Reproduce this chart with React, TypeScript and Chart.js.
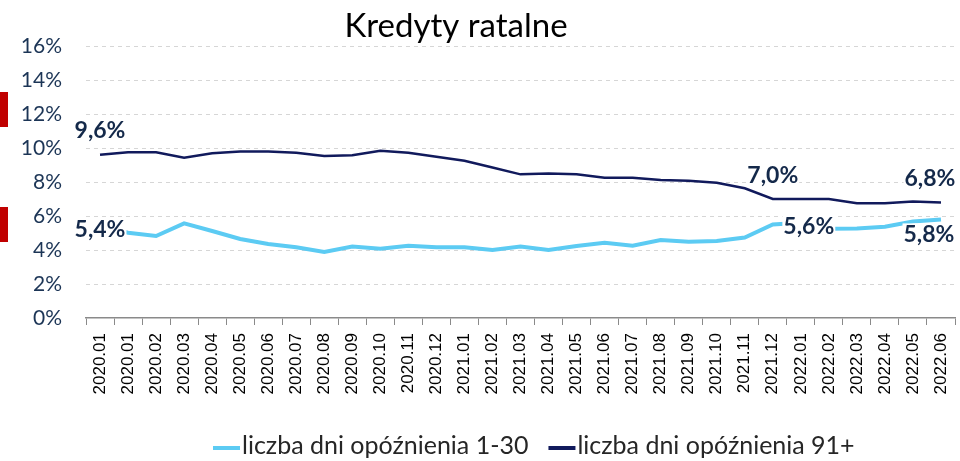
import { useEffect, useRef } from 'react';
import { Chart, registerables } from 'chart.js';

Chart.register(...registerables);

const categories = [
  '2020.01', '2020.01', '2020.02', '2020.03', '2020.04', '2020.05', '2020.06', '2020.07',
  '2020.08', '2020.09', '2020.10', '2020.11', '2020.12', '2021.01', '2021.02', '2021.03',
  '2021.04', '2021.05', '2021.06', '2021.07', '2021.08', '2021.09', '2021.10', '2021.11',
  '2021.12', '2022.01', '2022.02', '2022.03', '2022.04', '2022.05', '2022.06',
];

const late1to30 = [
  5.4, 5.02, 4.82, 5.57, 5.12, 4.65, 4.35, 4.16, 3.88, 4.2, 4.08, 4.25, 4.16, 4.16, 4.0, 4.2,
  4.0, 4.24, 4.43, 4.25, 4.59, 4.49, 4.53, 4.73, 5.5, 5.6, 5.25, 5.27, 5.37, 5.67, 5.8,
];

const late91plus = [
  9.6, 9.75, 9.75, 9.43, 9.69, 9.8, 9.8, 9.72, 9.53, 9.57, 9.84, 9.72, 9.49, 9.25, 8.85, 8.45,
  8.5, 8.45, 8.25, 8.25, 8.12, 8.08, 7.96, 7.63, 7.0, 7.0, 7.0, 6.75, 6.75, 6.86, 6.8,
];

const seriesNames = ['liczba dni opóźnienia 1-30', 'liczba dni opóźnienia 91+'];
const yTicks = [0, 2, 4, 6, 8, 10, 12, 14, 16];
const chartTitle = 'Kredyty ratalne';

// annotated points: [dataset index, point index]
const annotated = [
  [1, 0], [0, 0], [1, 24], [0, 25], [1, 30], [0, 30],
];
// pixel offsets of each annotation relative to its point
const annotationOffsets = [
  [0, -25], [0, 2], [0, -24], [8, 3], [-11, -25], [-12, 14],
];

const LIGHT = '#5ccbf3';
const DARK = '#111a5c';
const LABEL = '#14294a';
const CAL = 'Lato, "Open Sans", sans-serif';

const titlePlugin = {
  id: 'customTitle',
  afterDraw(chart: any) {
    const ctx = chart.ctx;
    ctx.save();
    ctx.font = `33px ${CAL}`;
    ctx.fillStyle = '#000000';
    ctx.textAlign = 'center';
    ctx.textBaseline = 'alphabetic';
    ctx.fillText(chartTitle, 456, 37);
    ctx.restore();
  },
};

const legendPlugin = {
  id: 'customLegend',
  afterDraw(chart: any) {
    const ctx = chart.ctx;
    ctx.save();
    ctx.font = `25px ${CAL}`;
    ctx.textAlign = 'left';
    ctx.textBaseline = 'alphabetic';
    let x = 213;
    const baseline = 454;
    chart.data.datasets.forEach((ds: any) => {
      ctx.fillStyle = ds.borderColor;
      ctx.fillRect(x, 446, 27, 4);
      x += 29;
      ctx.fillStyle = '#262626';
      ctx.fillText(ds.label, x, baseline);
      x += ctx.measureText(ds.label).width + 20;
    });
    ctx.restore();
  },
};

const valueLabels = {
  id: 'valueLabels',
  afterDatasetsDraw(chart: any) {
    const ctx = chart.ctx;
    ctx.save();
    ctx.font = `bold 23px ${CAL}`;
    ctx.textAlign = 'center';
    ctx.textBaseline = 'middle';
    annotated.forEach(([ds, idx], i) => {
      const meta = chart.getDatasetMeta(ds);
      const pt = meta.data[idx];
      const v = chart.data.datasets[ds].data[idx] as number;
      const text = v.toFixed(1).replace('.', ',') + '%';
      const x = pt.x + annotationOffsets[i][0];
      const y = pt.y + annotationOffsets[i][1];
      const w = ctx.measureText(text).width;
      ctx.fillStyle = '#ffffff';
      ctx.fillRect(x - w / 2 - 1, y - 10, w + 2, 20);
      ctx.fillStyle = LABEL;
      ctx.fillText(text, x, y + 1);
    });
    ctx.restore();
  },
};

export default function App() {
  const ref = useRef<HTMLCanvasElement>(null);
  useEffect(() => {
    document.body.style.margin = '0';
    const chart = new Chart(ref.current!, {
      type: 'line',
      data: {
        labels: categories,
        datasets: [
          {
            label: seriesNames[0],
            data: late1to30,
            borderColor: LIGHT,
            backgroundColor: LIGHT,
            borderWidth: 4,
            pointRadius: 0,
            tension: 0,
          },
          {
            label: seriesNames[1],
            data: late91plus,
            borderColor: DARK,
            backgroundColor: DARK,
            borderWidth: 2.5,
            pointRadius: 0,
            tension: 0,
          },
        ],
      },
      options: {
        animation: false,
        responsive: false,
        devicePixelRatio: 1,
        layout: { padding: { left: 18, right: 5, top: 46, bottom: 40 } },
        plugins: {
          title: { display: false },
          legend: { display: false },
          tooltip: { enabled: false },
        },
        scales: {
          x: {
            offset: true,
            grid: { drawOnChartArea: false, drawTicks: true, tickLength: 7, offset: true, color: '#8a8a8a' },
            border: { color: '#8a8a8a', width: 1.5 },
            ticks: {
              autoSkip: false,
              maxRotation: 90,
              minRotation: 90,
              padding: 8,
              color: '#000000',
              font: { family: '"Liberation Sans", Arial, sans-serif', size: 17 },
            },
            afterFit: (s: any) => {
              s.height = 103;
              s.paddingLeft = 0;
              s.paddingRight = 0;
            },
          },
          y: {
            min: yTicks[0],
            max: yTicks[yTicks.length - 1],
            afterBuildTicks: (s: any) => { s.ticks = yTicks.map((v) => ({ value: v })); },
            grid: {
              color: (c: any) => (c.tick && c.tick.value === 0 ? 'rgba(0,0,0,0)' : '#d6d6d6'),
              drawTicks: false,
              lineWidth: 1,
            },
            border: { display: false, dash: [4, 4] },
            ticks: {
              padding: 24,
              color: '#1c3556',
              font: { family: CAL, size: 21 },
              callback: (v: any) => v + '%',
            },
            afterFit: (s: any) => {
              s.width = 68;
              s.paddingTop = 0;
              s.paddingBottom = 0;
            },
          },
        },
      },
      plugins: [valueLabels, titlePlugin, legendPlugin],
    });
    return () => chart.destroy();
  }, []);
  return (
    <div style={{ position: 'relative', width: 960, height: 461 }}>
      <canvas ref={ref} width={960} height={461} style={{ display: 'block' }} />
      <div style={{ position: 'absolute', left: 0, top: 92, width: 8, height: 35, background: '#c00000' }} />
      <div style={{ position: 'absolute', left: 0, top: 207, width: 8, height: 35, background: '#c00000' }} />
    </div>
  );
}
